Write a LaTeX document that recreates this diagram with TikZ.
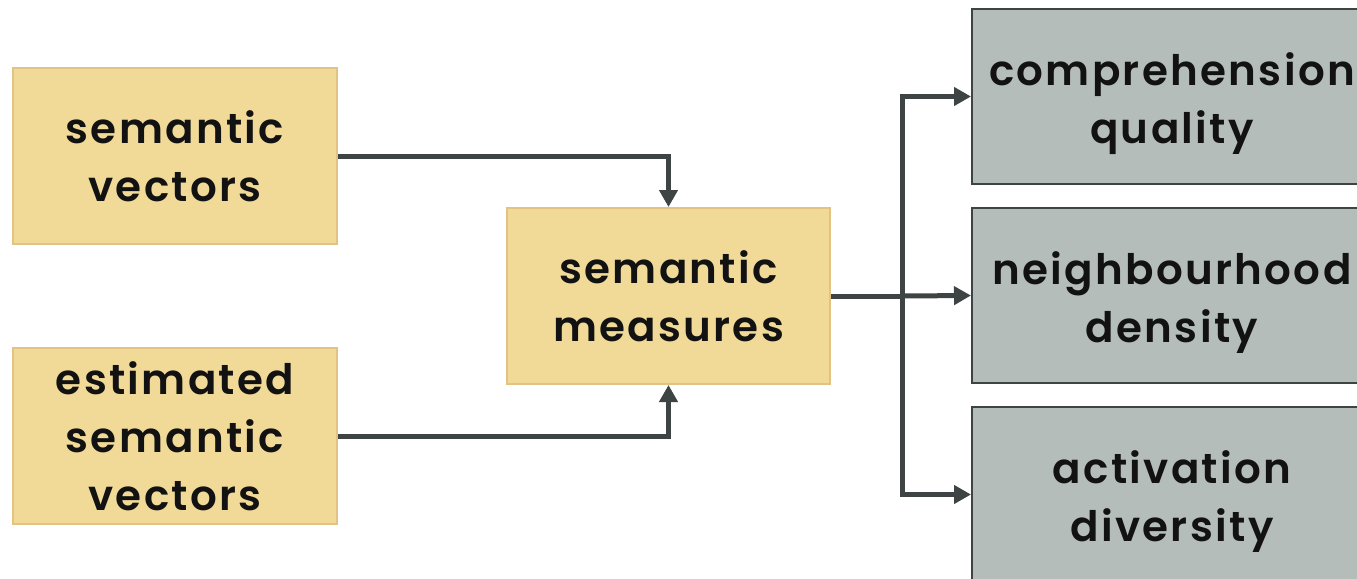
\documentclass[tikz,border=0pt]{standalone}
\usepackage{fontspec}
\IfFontExistsTF{Poppins SemiBold}
  {\setmainfont{Poppins}[BoldFont={Poppins SemiBold},LetterSpace=5.5]}
  {\setmainfont{Poppins}[LetterSpace=4]}
\usetikzlibrary{arrows.meta}
\definecolor{yfill}{HTML}{F1DA98}
\definecolor{ydraw}{HTML}{E2C383}
\definecolor{gfill}{HTML}{B5BDBB}
\definecolor{gdraw}{HTML}{3D4443}
\definecolor{lnc}{HTML}{3D4443}
\newcommand{\lowered}[1]{\raisebox{-3pt}[\height][\depth]{\begin{tabular}{@{}c@{}}#1\end{tabular}}}
\tikzset{
  ybox/.style={draw=ydraw, fill=yfill, line width=1pt, minimum width=162pt, minimum height=88pt, inner sep=0pt,
    align=center, font=\fontsize{21}{29}\selectfont\bfseries, text=black!93},
  gbox/.style={draw=gdraw, fill=gfill, line width=1pt, minimum width=200pt, minimum height=87.5pt, inner sep=0pt,
    align=center, font=\fontsize{21}{29}\selectfont\bfseries, text=black!93},
  conn/.style={draw=lnc, line width=2.5pt, -{Triangle[length=8.5pt,width=9pt]}},
  plain/.style={draw=lnc, line width=2.5pt}
}
\begin{document}
\begin{tikzpicture}[x=0.5pt,y=-0.5pt]
\useasboundingbox (0,0) rectangle (1357,579);
\clip (0,0) rectangle (1357,579);
\node[ybox] (sv) at (175,156) {semantic\\vectors};
\node[ybox] (ev) at (175,436) {estimated\\semantic\\vectors};
\node[ybox, minimum width=161.5pt] (sm) at (668.5,296) {semantic\\measures};
\node[gbox] (cq) at (1172,96.5) {\lowered{comprehension\\quality}};
\node[gbox] (nd) at (1172,295.5) {\lowered{neighbourhood\\density}};
\node[gbox] (ad) at (1172,494.5) {\lowered{activation\\diversity}};
\coordinate (split) at (902,296);
\draw[conn] (sv.east) -| (sm.north);
\draw[conn] (ev.east) -| (sm.south);
\draw[plain] (sm.east) -- (split);
\draw[conn] (split) |- (cq.west);
\draw[conn] (split) -- (nd.west);
\draw[conn] (split) |- (ad.west);
\end{tikzpicture}
\end{document}
